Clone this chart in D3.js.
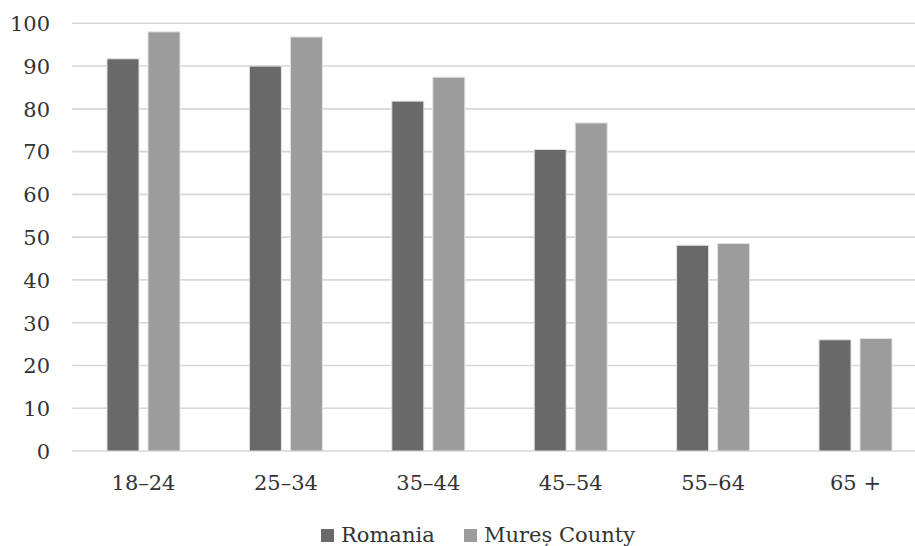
<!DOCTYPE html>
<html>
<head>
<meta charset="utf-8">
<script src="https://cdn.jsdelivr.net/npm/d3@7"></script>
<style>
  html, body { margin: 0; padding: 0; background: #fff; }
  svg { display: block; font-family: "DejaVu Serif", serif; }
</style>
</head>
<body>
<svg id="chart" width="915" height="546"></svg>
<script>
// Age groups and shares (%) for each area
const categories = ["18–24", "25–34", "35–44", "45–54", "55–64", "65 +"];
const seriesNames = ["Romania", "Mureș County"];
const romania = [91.7, 90.0, 81.8, 70.5, 48.1, 26.0];
const mures   = [98.0, 96.8, 87.4, 76.7, 48.5, 26.3];
const yTicks = [0, 10, 20, 30, 40, 50, 60, 70, 80, 90, 100];
const colors = ["#696969", "#9c9c9c"];

const values = [romania, mures];
const rows = categories.map((c, i) => ({ cat: c, vals: seriesNames.map((s, j) => ({ s, v: values[j][i] })) }));

const svg = d3.select("#chart");
const plotLeft = 72.3, plotRight = 926.7, plotTop = 23.3, plotBottom = 451;

const x0 = d3.scaleBand().domain(categories).range([plotLeft, plotRight]).padding(0);
const bw = x0.bandwidth();
const x1 = d3.scaleBand().domain(seriesNames)
  .range([bw * 0.2437, bw * 0.7563]).paddingInner(0.22).paddingOuter(0);
const y = d3.scaleLinear().domain([0, 100]).range([plotBottom, plotTop]);

// horizontal gridlines
svg.append("g").selectAll("line").data(yTicks).join("line")
  .attr("x1", plotLeft).attr("x2", plotRight)
  .attr("y1", d => y(d)).attr("y2", d => y(d))
  .attr("stroke", "#d6d6d6").attr("stroke-width", 1.6);

// y-axis labels
const yAxis = d3.axisLeft(y).tickValues(yTicks).tickSize(0).tickPadding(0);
const gy = svg.append("g").attr("transform", "translate(50,0)").call(yAxis);
gy.select(".domain").remove();
gy.selectAll("text").attr("font-size", 21).attr("fill", "#333")
  .attr("font-family", "DejaVu Serif, serif").attr("dy", "0.35em");

// bars
const groups = svg.append("g").selectAll("g").data(rows).join("g")
  .attr("transform", d => `translate(${x0(d.cat)},0)`);
groups.selectAll("rect").data(d => d.vals).join("rect")
  .attr("x", d => x1(d.s))
  .attr("width", x1.bandwidth())
  .attr("y", d => y(d.v))
  .attr("height", d => y(0) - y(d.v))
  .attr("fill", (d, i) => colors[i])
  .attr("stroke", "#e2e2e2").attr("stroke-width", 1);

// x-axis labels
const xAxis = d3.axisBottom(x0).tickSize(0).tickPadding(0);
const gx = svg.append("g").attr("transform", `translate(0,${plotBottom})`).call(xAxis);
gx.select(".domain").remove();
gx.selectAll("text").attr("font-size", 21).attr("fill", "#333")
  .attr("font-family", "DejaVu Serif, serif").attr("dy", null).attr("y", 39);

// legend
const legendX = [321, 464];
const leg = svg.append("g").selectAll("g").data(seriesNames).join("g")
  .attr("transform", (d, i) => `translate(${legendX[i]},0)`);
leg.append("rect").attr("x", 0).attr("y", 529).attr("width", 13).attr("height", 13)
  .attr("fill", (d, i) => colors[i]);
leg.append("text").attr("x", 20).attr("y", 542).text(d => d)
  .attr("font-size", 21).attr("fill", "#333");
</script>
</body>
</html>
